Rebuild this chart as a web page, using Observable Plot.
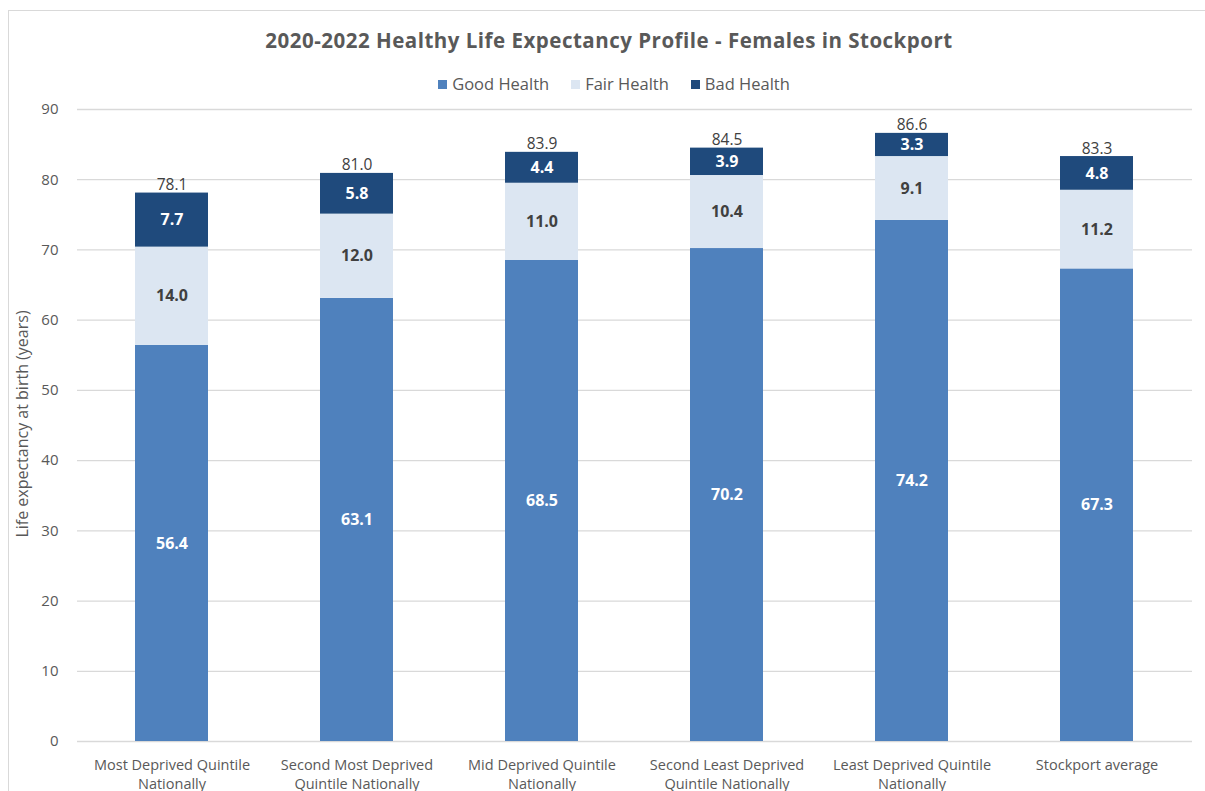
<!DOCTYPE html>
<html><head><meta charset="utf-8">
<script src="https://cdn.jsdelivr.net/npm/d3@7"></script>
<script src="https://cdn.jsdelivr.net/npm/@observablehq/plot@0.6"></script>
<style>
body{margin:0;background:#fff;font-family:"Open Sans",sans-serif;}
#frame{position:absolute;left:8px;top:10px;width:1197px;height:781px;border-left:1px solid #d9d9d9;border-top:1px solid #d9d9d9;}
#title{position:absolute;left:0;width:1218px;top:26px;text-align:center;font-size:20.5px;letter-spacing:0.5px;font-weight:700;color:#595959;}
#legend{position:absolute;left:0;width:1228px;top:72px;text-align:center;font-size:16.5px;color:#595959;}
#legend span.item{margin:0 11px;}
#legend span.sw{display:inline-block;width:9px;height:9px;margin-right:5px;vertical-align:1px;}
#ylabel{position:absolute;left:22px;top:424px;transform:translate(-50%,-50%) rotate(-90deg);white-space:nowrap;font-size:16px;color:#595959;}
#chart{position:absolute;left:0;top:90px;}
</style></head>
<body>
<div id="frame"></div>
<div id="title">2020-2022 Healthy Life Expectancy Profile - Females in Stockport</div>
<div id="legend"></div>
<div id="chart"></div>
<div id="ylabel">Life expectancy at birth (years)</div>
<script>
const categories = ["Most Deprived Quintile Nationally","Second Most Deprived Quintile Nationally","Mid Deprived Quintile Nationally","Second Least Deprived Quintile Nationally","Least Deprived Quintile Nationally","Stockport average"];
const tickLabels = ["Most Deprived Quintile\nNationally","Second Most Deprived\nQuintile Nationally","Mid Deprived Quintile\nNationally","Second Least Deprived\nQuintile Nationally","Least Deprived Quintile\nNationally","Stockport average"];
const seriesNames = ["Good Health","Fair Health","Bad Health"];
const seriesColors = ["#4F81BD","#DCE6F2","#1F4A7C"];
const good = [56.4, 63.1, 68.5, 70.2, 74.2, 67.3];
const fair = [14.0, 12.0, 11.0, 10.4, 9.1, 11.2];
const bad = [7.7, 5.8, 4.4, 3.9, 3.3, 4.8];
const totals = [78.1, 81.0, 83.9, 84.5, 86.6, 83.3];
const yTicks = [0,10,20,30,40,50,60,70,80,90];

const seriesValues = [good, fair, bad];
const rows = [];
categories.forEach((c,i)=>seriesNames.forEach((s,j)=>rows.push({cat:c, series:s, value:seriesValues[j][i]})));
const totalRows = categories.map((c,i)=>({cat:c, total:totals[i]}));
const labelOf = new Map(categories.map((c,i)=>[c,tickLabels[i]]));

// legend
const lg = document.getElementById("legend");
seriesNames.forEach((s,i)=>{
  const it = document.createElement("span"); it.className="item";
  const sw = document.createElement("span"); sw.className="sw"; sw.style.background=seriesColors[i];
  it.appendChild(sw); it.appendChild(document.createTextNode(s)); lg.appendChild(it);
});

const fmt = v => v.toFixed(1);
const chart = Plot.plot({
  width: 1205, height: 701,
  marginTop: 19, marginBottom: 50, marginLeft: 77, marginRight: 13,
  style: {fontFamily: "Open Sans, sans-serif", color: "#595959", background: "transparent"},
  x: {domain: categories, paddingInner: 0.605, paddingOuter: 0.3025, label: null},
  y: {domain: [0, 90], ticks: yTicks, label: null},
  color: {domain: seriesNames, range: seriesColors},
  marks: [
    Plot.ruleY(yTicks, {stroke: "#d9d9d9", strokeWidth: 1.3}),
    Plot.axisY({ticks: yTicks, tickSize: 0, tickPadding: 19, fontSize: 15, fill: "#595959", label: null}),
    Plot.axisX({tickSize: 0, tickPadding: 14, fontSize: 14.5, fill: "#595959", lineHeight: 1.36,
      tickFormat: d => labelOf.get(d), label: null}),
    Plot.barY(rows, {x: "cat", y: "value", fill: "series", order: seriesNames}),
    Plot.text(rows, Plot.stackY({x: "cat", y: "value", z: "series", order: seriesNames,
      text: d => d.series === "Fair Health" ? "" : fmt(d.value), fill: "white", fontWeight: "bold", fontSize: 16})),
    Plot.text(rows, Plot.stackY({x: "cat", y: "value", z: "series", order: seriesNames,
      text: d => d.series === "Fair Health" ? fmt(d.value) : "", fill: "#404040", fontWeight: "bold", fontSize: 16})),
    Plot.text(totalRows, {x: "cat", y: "total", text: d => fmt(d.total), lineAnchor: "bottom", dy: -3, fill: "#404040", fontSize: 15.5})
  ]
});
document.getElementById("chart").appendChild(chart);
</script>
</body></html>
